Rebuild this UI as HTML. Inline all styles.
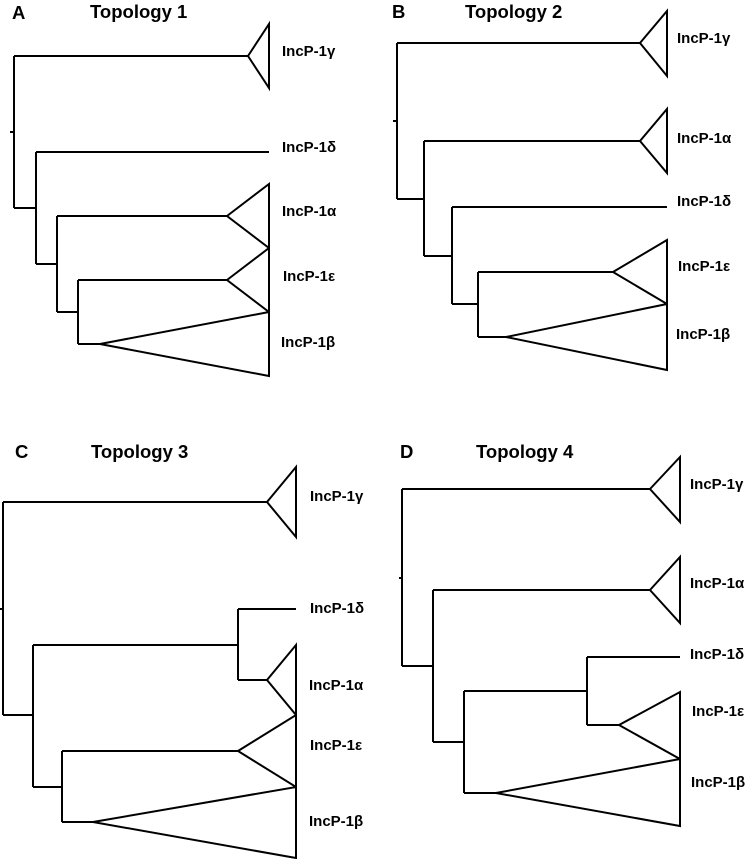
<!DOCTYPE html>
<html><head><meta charset="utf-8"><style>
html,body{margin:0;padding:0;background:#fff;}
svg{display:block;}
text{font-family:"Liberation Sans",Arial,sans-serif;font-weight:bold;fill:#000;}
.t{font-size:18.5px;}
.l{font-size:15px;}
</style></head><body>
<svg width="750" height="859" viewBox="0 0 750 859" xmlns="http://www.w3.org/2000/svg">
<g fill="none" stroke="#000" stroke-width="2" stroke-linejoin="miter">
<path d="M10,132H14 M14,56V208 M14,56H248 M248,56L269,24V88Z"/>
<path d="M14,208H36 M36,152V264 M36,152H269"/>
<path d="M36,264H57 M57,216V312 M57,216H227 M227,216L269,184V248Z"/>
<path d="M57,312H78 M78,280V344 M78,280H227 M227,280L269,248V312Z"/>
<path d="M78,344H100 M100,344L269,312V376Z"/>
<path d="M393,121H397 M397,43V199 M397,43H640 M640,43L667,11V76Z"/>
<path d="M397,199H424 M424,141V256 M424,141H640 M640,141L667,109V173Z"/>
<path d="M424,256H452 M452,207V304 M452,207H667"/>
<path d="M452,304H478 M478,272V337 M478,272H613 M613,272L667,240V304Z"/>
<path d="M478,337H506 M506,337L667,304V370Z"/>
<path d="M0,609H3 M3,502V715 M3,502H267 M267,502L296,467V537Z"/>
<path d="M3,715H33 M33,645V787 M33,645H238 M238,609V680 M238,609H296 M238,680H267 M267,680L296,645V715Z"/>
<path d="M33,787H62 M62,751V822 M62,751H238 M238,751L296,715V787Z"/>
<path d="M62,822H93 M93,822L296,787V858Z"/>
<path d="M399,578H402 M402,489V666 M402,489H650 M650,489L680,457V522Z"/>
<path d="M402,666H433 M433,590V742 M433,590H650 M650,590L680,557V623Z"/>
<path d="M433,742H464 M464,691V793 M464,691H587 M587,657V725 M587,657H680 M587,725H619 M619,725L680,692V759Z"/>
<path d="M464,793H496 M496,793L680,759V826Z"/>
</g>
<text class="t" x="12" y="19">A</text>
<text class="t" x="90" y="18">Topology 1</text>
<text class="t" x="392" y="18">B</text>
<text class="t" x="465" y="18">Topology 2</text>
<text class="t" x="15" y="458">C</text>
<text class="t" x="91" y="458">Topology 3</text>
<text class="t" x="400" y="458">D</text>
<text class="t" x="476" y="458">Topology 4</text>
<g dominant-baseline="middle">
<text class="l" x="282" y="52">IncP-1γ</text>
<text class="l" x="282" y="148">IncP-1δ</text>
<text class="l" x="282" y="212">IncP-1α</text>
<text class="l" x="283" y="277">IncP-1ε</text>
<text class="l" x="281" y="343">IncP-1β</text>
<text class="l" x="677" y="39">IncP-1γ</text>
<text class="l" x="677" y="139">IncP-1α</text>
<text class="l" x="677" y="202">IncP-1δ</text>
<text class="l" x="678" y="267">IncP-1ε</text>
<text class="l" x="676" y="335">IncP-1β</text>
<text class="l" x="310" y="497">IncP-1γ</text>
<text class="l" x="310" y="609">IncP-1δ</text>
<text class="l" x="309" y="686">IncP-1α</text>
<text class="l" x="310" y="746">IncP-1ε</text>
<text class="l" x="309" y="822">IncP-1β</text>
<text class="l" x="690" y="485">IncP-1γ</text>
<text class="l" x="690" y="584">IncP-1α</text>
<text class="l" x="690" y="655">IncP-1δ</text>
<text class="l" x="692" y="712">IncP-1ε</text>
<text class="l" x="691" y="783">IncP-1β</text>
</g>
</svg>
</body></html>
